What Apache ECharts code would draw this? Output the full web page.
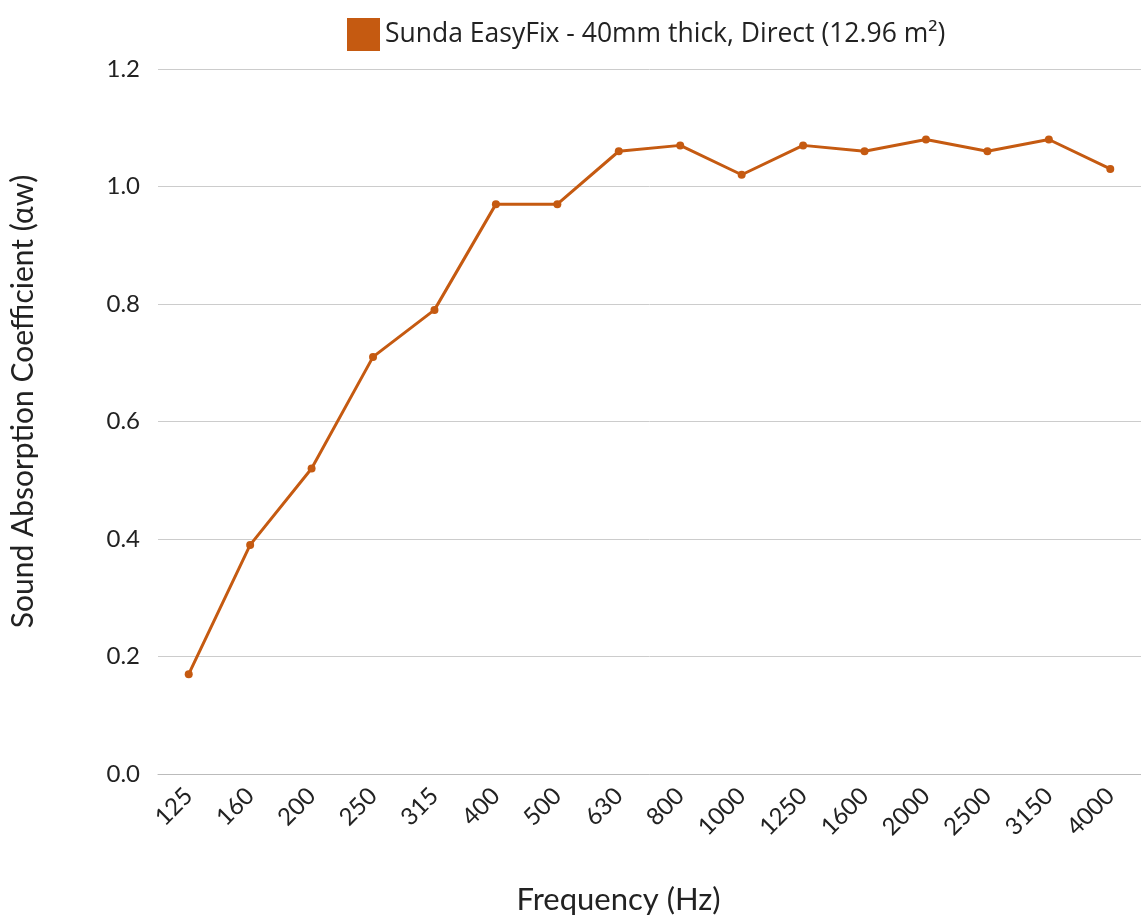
<!DOCTYPE html>
<html><head><meta charset="utf-8">
<script src="https://cdn.jsdelivr.net/npm/echarts@6/dist/echarts.min.js"></script>
<style>html,body{margin:0;padding:0;background:#fff}#c{width:1141px;height:920px}</style>
</head><body><div id="c"></div>
<script>
const categories = ['125','160','200','250','315','400','500','630','800','1000','1250','1600','2000','2500','3150','4000'];
const seriesName = 'Sunda EasyFix - 40mm thick, Direct (12.96 m²)';
const values = [0.17,0.39,0.52,0.71,0.79,0.97,0.97,1.06,1.07,1.02,1.07,1.06,1.08,1.06,1.08,1.03];
const color = '#C55A11';
const chart = echarts.init(document.getElementById('c'));
chart.setOption({
  animation:false,
  legend:{top:13,left:342,itemWidth:33,itemHeight:33,icon:'rect',itemGap:10,
    textStyle:{fontFamily:'Open Sans',fontSize:26.5,color:'#222'},data:[seriesName]},
  grid:{left:158,right:0,top:69,bottom:145},
  xAxis:{type:'category',data:categories,boundaryGap:true,
    axisLine:{show:true,lineStyle:{color:'#bbb'}},axisTick:{show:false},
    axisLabel:{rotate:45,fontFamily:'Lato',fontSize:24,color:'#222',margin:18},
    name:'Frequency (Hz)',nameLocation:'middle',nameGap:110,
    nameTextStyle:{fontFamily:'Lato',fontSize:31,color:'#222',padding:[0,62,0,0]}},
  yAxis:{type:'value',min:0,max:1.2,interval:0.2,
    axisLabel:{formatter:v=>v.toFixed(1),fontFamily:'Lato',fontSize:24,color:'#222',margin:18},
    splitLine:{lineStyle:{color:'#ccc'}},axisLine:{show:false},axisTick:{show:false},
    name:'Sound Absorption Coefficient (αw)',nameLocation:'middle',nameGap:120,
    nameTextStyle:{fontFamily:'Lato',fontSize:30,color:'#222',padding:[0,0,0,40]}},
  series:[{name:seriesName,type:'line',data:values,color:color,
    lineStyle:{width:3,color:color},symbol:'circle',symbolSize:8,
    itemStyle:{color:color}}]
});
</script></body></html>
